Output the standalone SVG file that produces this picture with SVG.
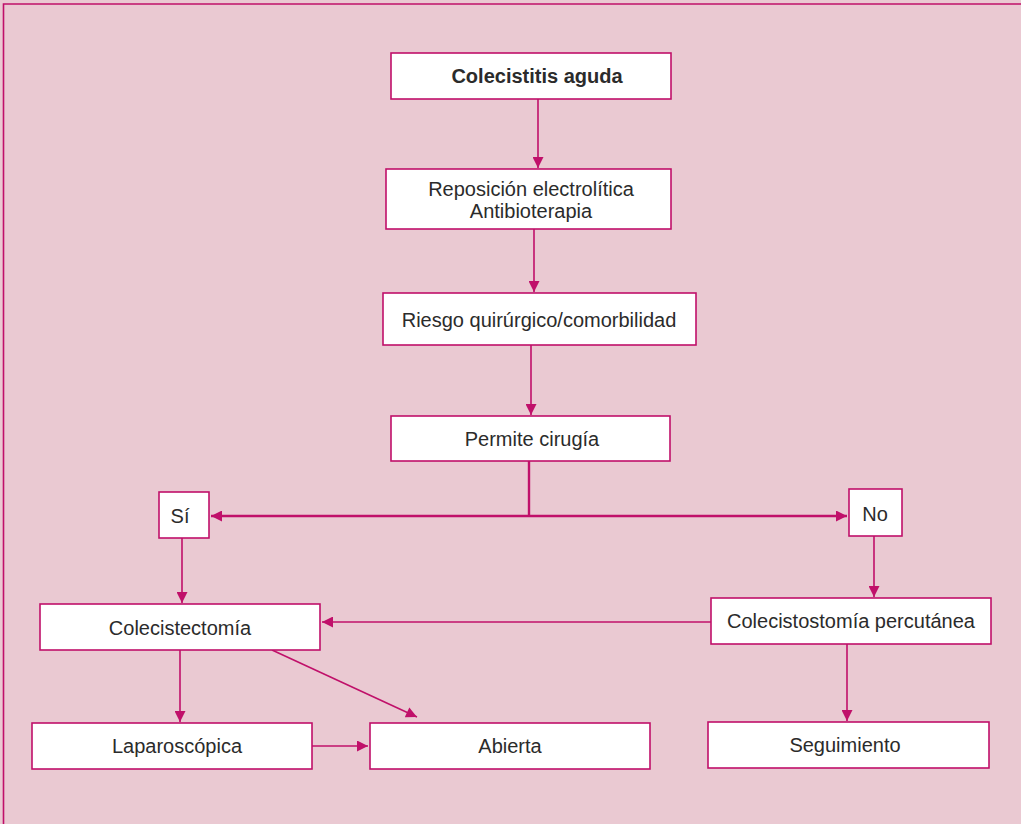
<svg xmlns="http://www.w3.org/2000/svg" width="1021" height="824" viewBox="0 0 1021 824">
  <style>
    .box { fill: #ffffff; stroke: #c0106a; stroke-width: 1.6; }
    .lbl { font-family: "Liberation Sans", Arial, sans-serif; font-size: 20px; fill: #2b2b2b; text-anchor: middle; dominant-baseline: central; }
    .bold { font-weight: bold; }
    .edge { fill: none; stroke: #c0106a; stroke-width: 1.6; }
    .thick { stroke-width: 2.4; }
  </style>
  <defs>
    <marker id="arrow" viewBox="0 0 10 10" refX="10" refY="5" markerWidth="12" markerHeight="11" markerUnits="userSpaceOnUse" orient="auto">
      <path d="M0,0 L10,5 L0,10 z" fill="#c0106a"/>
    </marker>
  </defs>

  <!-- background panel -->
  <rect x="0" y="0" width="1021" height="824" fill="#eac9d2"/>
  <path d="M3.5,824 V4 H1021" fill="none" stroke="#c0106a" stroke-width="1.6"/>

  <!-- connectors -->
  <g id="connectors">
    <line class="edge" x1="538" y1="99" x2="538" y2="168" marker-end="url(#arrow)"/>
    <line class="edge" x1="534" y1="229" x2="534" y2="292" marker-end="url(#arrow)"/>
    <line class="edge" x1="531" y1="345" x2="531" y2="415" marker-end="url(#arrow)"/>
    <line class="edge thick" x1="529" y1="461" x2="529" y2="516"/>
    <line class="edge thick" x1="529" y1="516" x2="211" y2="516" marker-end="url(#arrow)"/>
    <line class="edge thick" x1="529" y1="516" x2="847" y2="516" marker-end="url(#arrow)"/>
    <line class="edge" x1="182" y1="538" x2="182" y2="603" marker-end="url(#arrow)"/>
    <line class="edge" x1="874" y1="536" x2="874" y2="597" marker-end="url(#arrow)"/>
    <line class="edge" x1="711" y1="622" x2="322" y2="622" marker-end="url(#arrow)"/>
    <line class="edge" x1="180" y1="650" x2="180" y2="722" marker-end="url(#arrow)"/>
    <line class="edge" x1="272" y1="650" x2="417" y2="717" marker-end="url(#arrow)"/>
    <line class="edge" x1="312" y1="746" x2="368" y2="746" marker-end="url(#arrow)"/>
    <line class="edge" x1="847" y1="644" x2="847" y2="721" marker-end="url(#arrow)"/>
  </g>

  <g id="n-colecistitis">
    <rect class="box" x="391" y="53" width="280" height="46"/>
    <text class="lbl bold" x="537" y="76">Colecistitis aguda</text>
  </g>
  <g id="n-reposicion">
    <rect class="box" x="386" y="169" width="285" height="60"/>
    <text class="lbl" x="531" y="189">Reposición electrolítica</text>
    <text class="lbl" x="531" y="211">Antibioterapia</text>
  </g>
  <g id="n-riesgo">
    <rect class="box" x="383" y="293" width="313" height="52"/>
    <text class="lbl" x="539" y="320">Riesgo quirúrgico/comorbilidad</text>
  </g>
  <g id="n-permite">
    <rect class="box" x="391" y="416" width="279" height="45"/>
    <text class="lbl" x="532" y="439">Permite cirugía</text>
  </g>
  <g id="n-si">
    <rect class="box" x="159" y="492" width="50" height="46"/>
    <text class="lbl" x="180" y="516">Sí</text>
  </g>
  <g id="n-no">
    <rect class="box" x="849" y="489" width="53" height="47"/>
    <text class="lbl" x="875" y="514">No</text>
  </g>
  <g id="n-colecistectomia">
    <rect class="box" x="40" y="604" width="280" height="46"/>
    <text class="lbl" x="180" y="628">Colecistectomía</text>
  </g>
  <g id="n-colecistostomia">
    <rect class="box" x="711" y="598" width="280" height="46"/>
    <text class="lbl" x="851" y="621">Colecistostomía percutánea</text>
  </g>
  <g id="n-laparoscopica">
    <rect class="box" x="32" y="723" width="280" height="46"/>
    <text class="lbl" x="177" y="746">Laparoscópica</text>
  </g>
  <g id="n-abierta">
    <rect class="box" x="370" y="723" width="280" height="46"/>
    <text class="lbl" x="510" y="746">Abierta</text>
  </g>
  <g id="n-seguimiento">
    <rect class="box" x="708" y="722" width="281" height="46"/>
    <text class="lbl" x="845" y="745">Seguimiento</text>
  </g>
</svg>
